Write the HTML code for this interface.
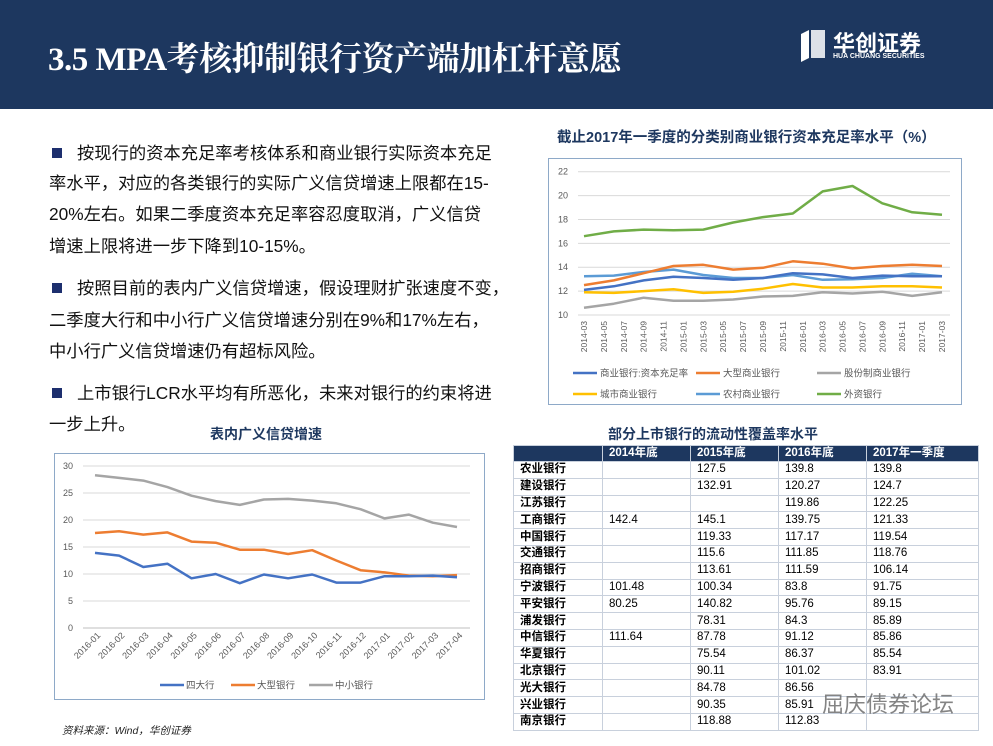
<!DOCTYPE html>
<html><head><meta charset="utf-8">
<style>
*{margin:0;padding:0;box-sizing:border-box}
body{width:993px;height:746px;overflow:hidden;background:#fff;position:relative;font-family:"Liberation Sans","Noto Sans CJK SC",sans-serif}
.hdr{position:absolute;left:0;top:0;width:993px;height:109px;background:#1d375f}
.title{position:absolute;left:48px;top:33px;color:#fff;font:bold 33px "Liberation Serif","Noto Serif CJK SC",serif;letter-spacing:-0.5px}
.logo{position:absolute;left:795px;top:28px;color:#fff}
.ln{position:absolute;font-size:17.3px;color:#111;white-space:nowrap;line-height:20px}
.bul{position:absolute;width:10px;height:10px;background:#1d2f6e}
.ct{position:absolute;font-weight:bold;font-size:14px;color:#1d375f;white-space:nowrap}
table{position:absolute;left:513px;top:445px;border-collapse:collapse;font-size:11.5px;table-layout:fixed;line-height:13px}
td,th{border:1px solid #c8d0dc;padding:0 0 0 6px;text-align:left;overflow:hidden;white-space:nowrap}
tr{height:16.8px}
tr.h{height:16px}
th{background:#1d375f;color:#fff;font-weight:bold}
td.n{font-weight:bold}
</style></head><body>
<div class="hdr"></div>
<div class="title">3.5 MPA考核抑制银行资产端加杠杆意愿</div>
<div class="logo">
<svg width="36" height="34" style="position:absolute;left:0;top:0"><g fill="#fff"><polygon points="6,6 14,2 14,30 6,34"/><polygon points="16,2 30,2 30,30 16,30" opacity="0.85"/></g></svg>
<div style="position:absolute;left:38px;top:-2px;font:bold 22px 'Noto Sans CJK SC',sans-serif;white-space:nowrap">华创证券</div>
<div style="position:absolute;left:38px;top:25px;font:bold 7px 'Liberation Sans',sans-serif;white-space:nowrap">HUA CHUANG SECURITIES</div>
</div>

<div class="bul" style="left:52px;top:148px"></div>
<div class="ln" style="left:77px;top:143px">按现行的资本充足率考核体系和商业银行实际资本充足</div>
<div class="ln" style="left:49px;top:173px">率水平，对应的各类银行的实际广义信贷增速上限都在15-</div>
<div class="ln" style="left:49px;top:204px">20%左右。如果二季度资本充足率容忍度取消，广义信贷</div>
<div class="ln" style="left:49px;top:236px">增速上限将进一步下降到10-15%。</div>
<div class="bul" style="left:52px;top:283px"></div>
<div class="ln" style="left:77px;top:278px">按照目前的表内广义信贷增速，假设理财扩张速度不变，</div>
<div class="ln" style="left:49px;top:310px">二季度大行和中小行广义信贷增速分别在9%和17%左右，</div>
<div class="ln" style="left:49px;top:341px">中小行广义信贷增速仍有超标风险。</div>
<div class="bul" style="left:52px;top:388px"></div>
<div class="ln" style="left:77px;top:383px">上市银行LCR水平均有所恶化，未来对银行的约束将进</div>
<div class="ln" style="left:49px;top:414px">一步上升。</div>

<div class="ct" style="left:557px;top:126px;font-size:14.5px">截止2017年一季度的分类别商业银行资本充足率水平（%）</div>
<svg id="c1" style="position:absolute;left:0;top:0" width="993" height="746"></svg>

<div class="ct" style="left:210px;top:424px">表内广义信贷增速</div>
<div class="ct" style="left:608px;top:424px">部分上市银行的流动性覆盖率水平</div>

<table>
<colgroup><col style="width:89px"><col style="width:88px"><col style="width:88px"><col style="width:88px"><col style="width:112px"></colgroup>
<tr class="h"><th></th><th>2014年底</th><th>2015年底</th><th>2016年底</th><th>2017年一季度</th></tr>
<tr><td class="n">农业银行</td><td></td><td>127.5</td><td>139.8</td><td>139.8</td></tr>
<tr><td class="n">建设银行</td><td></td><td>132.91</td><td>120.27</td><td>124.7</td></tr>
<tr><td class="n">江苏银行</td><td></td><td></td><td>119.86</td><td>122.25</td></tr>
<tr><td class="n">工商银行</td><td>142.4</td><td>145.1</td><td>139.75</td><td>121.33</td></tr>
<tr><td class="n">中国银行</td><td></td><td>119.33</td><td>117.17</td><td>119.54</td></tr>
<tr><td class="n">交通银行</td><td></td><td>115.6</td><td>111.85</td><td>118.76</td></tr>
<tr><td class="n">招商银行</td><td></td><td>113.61</td><td>111.59</td><td>106.14</td></tr>
<tr><td class="n">宁波银行</td><td>101.48</td><td>100.34</td><td>83.8</td><td>91.75</td></tr>
<tr><td class="n">平安银行</td><td>80.25</td><td>140.82</td><td>95.76</td><td>89.15</td></tr>
<tr><td class="n">浦发银行</td><td></td><td>78.31</td><td>84.3</td><td>85.89</td></tr>
<tr><td class="n">中信银行</td><td>111.64</td><td>87.78</td><td>91.12</td><td>85.86</td></tr>
<tr><td class="n">华夏银行</td><td></td><td>75.54</td><td>86.37</td><td>85.54</td></tr>
<tr><td class="n">北京银行</td><td></td><td>90.11</td><td>101.02</td><td>83.91</td></tr>
<tr><td class="n">光大银行</td><td></td><td>84.78</td><td>86.56</td><td></td></tr>
<tr><td class="n">兴业银行</td><td></td><td>90.35</td><td>85.91</td><td></td></tr>
<tr><td class="n">南京银行</td><td></td><td>118.88</td><td>112.83</td><td></td></tr>
</table>
<div style="position:absolute;left:822px;top:687px;font-size:22px;color:#666;opacity:0.8;white-space:nowrap">屈庆债券论坛</div>
<div style="position:absolute;left:62px;top:723px;font-size:10.5px;font-style:italic;color:#222">资料来源：Wind，华创证券</div>

<script>
// Chart 1: capital adequacy ratio by bank type (quarterly)
const c1Ticks=["2014-03","2014-05","2014-07","2014-09","2014-11","2015-01","2015-03","2015-05","2015-07","2015-09","2015-11","2016-01","2016-03","2016-05","2016-07","2016-09","2016-11","2017-01","2017-03"];
const c1Names=["商业银行:资本充足率","大型商业银行","股份制商业银行","城市商业银行","农村商业银行","外资银行"];
const c1Colors=["#4472c4","#ed7d31","#a5a5a5","#ffc000","#5b9bd5","#70ad47"];
const sCommercial=[12.1,12.4,12.9,13.2,13.1,12.95,13.1,13.5,13.4,13.1,13.3,13.25,13.25];
const sLarge=[12.5,12.9,13.5,14.1,14.2,13.8,13.95,14.5,14.3,13.9,14.1,14.2,14.1];
const sJointStock=[10.6,10.95,11.45,11.2,11.2,11.3,11.55,11.6,11.9,11.8,11.95,11.6,11.9];
const sCity=[11.9,11.85,12.0,12.15,11.85,11.95,12.2,12.6,12.3,12.3,12.4,12.4,12.3];
const sRural=[13.25,13.3,13.6,13.8,13.35,13.1,13.1,13.35,12.95,13.0,13.1,13.45,13.25];
const sForeign=[16.6,17.0,17.15,17.1,17.15,17.75,18.2,18.5,20.35,20.8,19.35,18.6,18.4];
const c1Y=[10,12,14,16,18,20,22];

// Chart 2: on-balance broad credit growth (monthly)
const c2Cats=["2016-01","2016-02","2016-03","2016-04","2016-05","2016-06","2016-07","2016-08","2016-09","2016-10","2016-11","2016-12","2017-01","2017-02","2017-03","2017-04"];
const c2Names=["四大行","大型银行","中小银行"];
const c2Colors=["#4472c4","#ed7d31","#a5a5a5"];
const sBig4=[13.9,13.4,11.3,11.9,9.2,10.0,8.3,9.9,9.2,9.9,8.4,8.4,9.6,9.6,9.7,9.4];
const sLargeBank=[17.6,17.9,17.3,17.7,16.0,15.8,14.5,14.5,13.7,14.4,12.5,10.7,10.3,9.7,9.6,9.8];
const sSmallMid=[28.3,27.8,27.3,26.1,24.5,23.5,22.8,23.8,23.9,23.6,23.1,22.0,20.3,21.0,19.5,18.7];
const c2Y=[0,5,10,15,20,25,30];

const NS="http://www.w3.org/2000/svg";
const svg=document.getElementById('c1');
function el(t,a,p){const e=document.createElementNS(NS,t);for(const k in a)e.setAttribute(k,a[k]);(p||svg).appendChild(e);return e;}
function txt(x,y,s,a){const e=el('text',Object.assign({x:x,y:y,'font-size':9,fill:'#595959','font-family':'Liberation Sans, Noto Sans CJK SC, sans-serif'},a||{}));e.textContent=s;return e;}

// ---- Chart 1 ----
(function(){
const box=el('rect',{x:548.5,y:158.5,width:413,height:246,fill:'none',stroke:'#8ea9c8'});


const x0=584,x1=942,yT=171.7,yB=315,ymin=10,ymax=22;
const Y=v=>yB-(v-ymin)/(ymax-ymin)*(yB-yT);
const XQ=i=>x0+i*(x1-x0)/12;
const XT=i=>x0+i*(x1-x0)/18;
c1Y.forEach(v=>{
 const g=el('line',{x1:x0-6,x2:x1+8,y1:Y(v),y2:Y(v),stroke:'#d9d9d9','stroke-width':1});
 
 
 const t=txt(568,Y(v)+3,String(v),{'text-anchor':'end'});
 
 
});
c1Ticks.forEach((s,i)=>{
 const t=txt(0,0,s,{transform:`translate(${XT(i)+3},321) rotate(-90)`,'text-anchor':'end','font-size':8.5});
 
 
});
const series=[sCommercial,sLarge,sJointStock,sCity,sRural,sForeign];
[2,3,4,0,1,5].forEach(k=>{
 const d=series[k].map((v,i)=>(i?'L':'M')+XQ(i).toFixed(1)+','+Y(v).toFixed(1)).join('');
 const p=el('path',{d:d,fill:'none',stroke:c1Colors[k],'stroke-width':2.5,'stroke-linejoin':'round'});
 
 
});
const lx=[573,696,817],ly=[373,394];
c1Names.forEach((n,k)=>{
 const x=lx[k%3],y=ly[Math.floor(k/3)];
 const l=el('line',{x1:x,x2:x+24,y1:y,y2:y,stroke:c1Colors[k],'stroke-width':2.5});
 
 
 const t=txt(x+27,y+3.5,n,{'font-size':9.5});
 
 
});
})();

// ---- Chart 2 ----
(function(){
const box=el('rect',{x:54.5,y:453.5,width:430,height:246,fill:'none',stroke:'#8ea9c8'});


const x0=95,x1=457,yT=466,yB=628,ymin=0,ymax=30;
const Y=v=>yB-(v-ymin)/(ymax-ymin)*(yB-yT);
const X=i=>x0+i*(x1-x0)/15;
c2Y.forEach(v=>{
 const g=el('line',{x1:83,x2:470,y1:Y(v),y2:Y(v),stroke:v?'#d9d9d9':'#bfbfbf','stroke-width':1});
 
 
 const t=txt(73,Y(v)+3,String(v),{'text-anchor':'end'});
 
 
});
c2Cats.forEach((s,i)=>{
 const t=txt(0,0,s,{transform:`translate(${X(i)+6},636) rotate(-45)`,'text-anchor':'end','font-size':9});
 
 
});
const series=[sBig4,sLargeBank,sSmallMid];
[2,1,0].forEach(k=>{
 const d=series[k].map((v,i)=>(i?'L':'M')+X(i).toFixed(1)+','+Y(v).toFixed(1)).join('');
 const p=el('path',{d:d,fill:'none',stroke:c2Colors[k],'stroke-width':2.5,'stroke-linejoin':'round'});
 
 
});
const lx=[160,231,309];
c2Names.forEach((n,k)=>{
 const l=el('line',{x1:lx[k],x2:lx[k]+24,y1:685,y2:685,stroke:c2Colors[k],'stroke-width':2.5});
 
 
 const t=txt(lx[k]+26,688.5,n,{'font-size':9.5});
 
 
});
})();
</script>
</body></html>
